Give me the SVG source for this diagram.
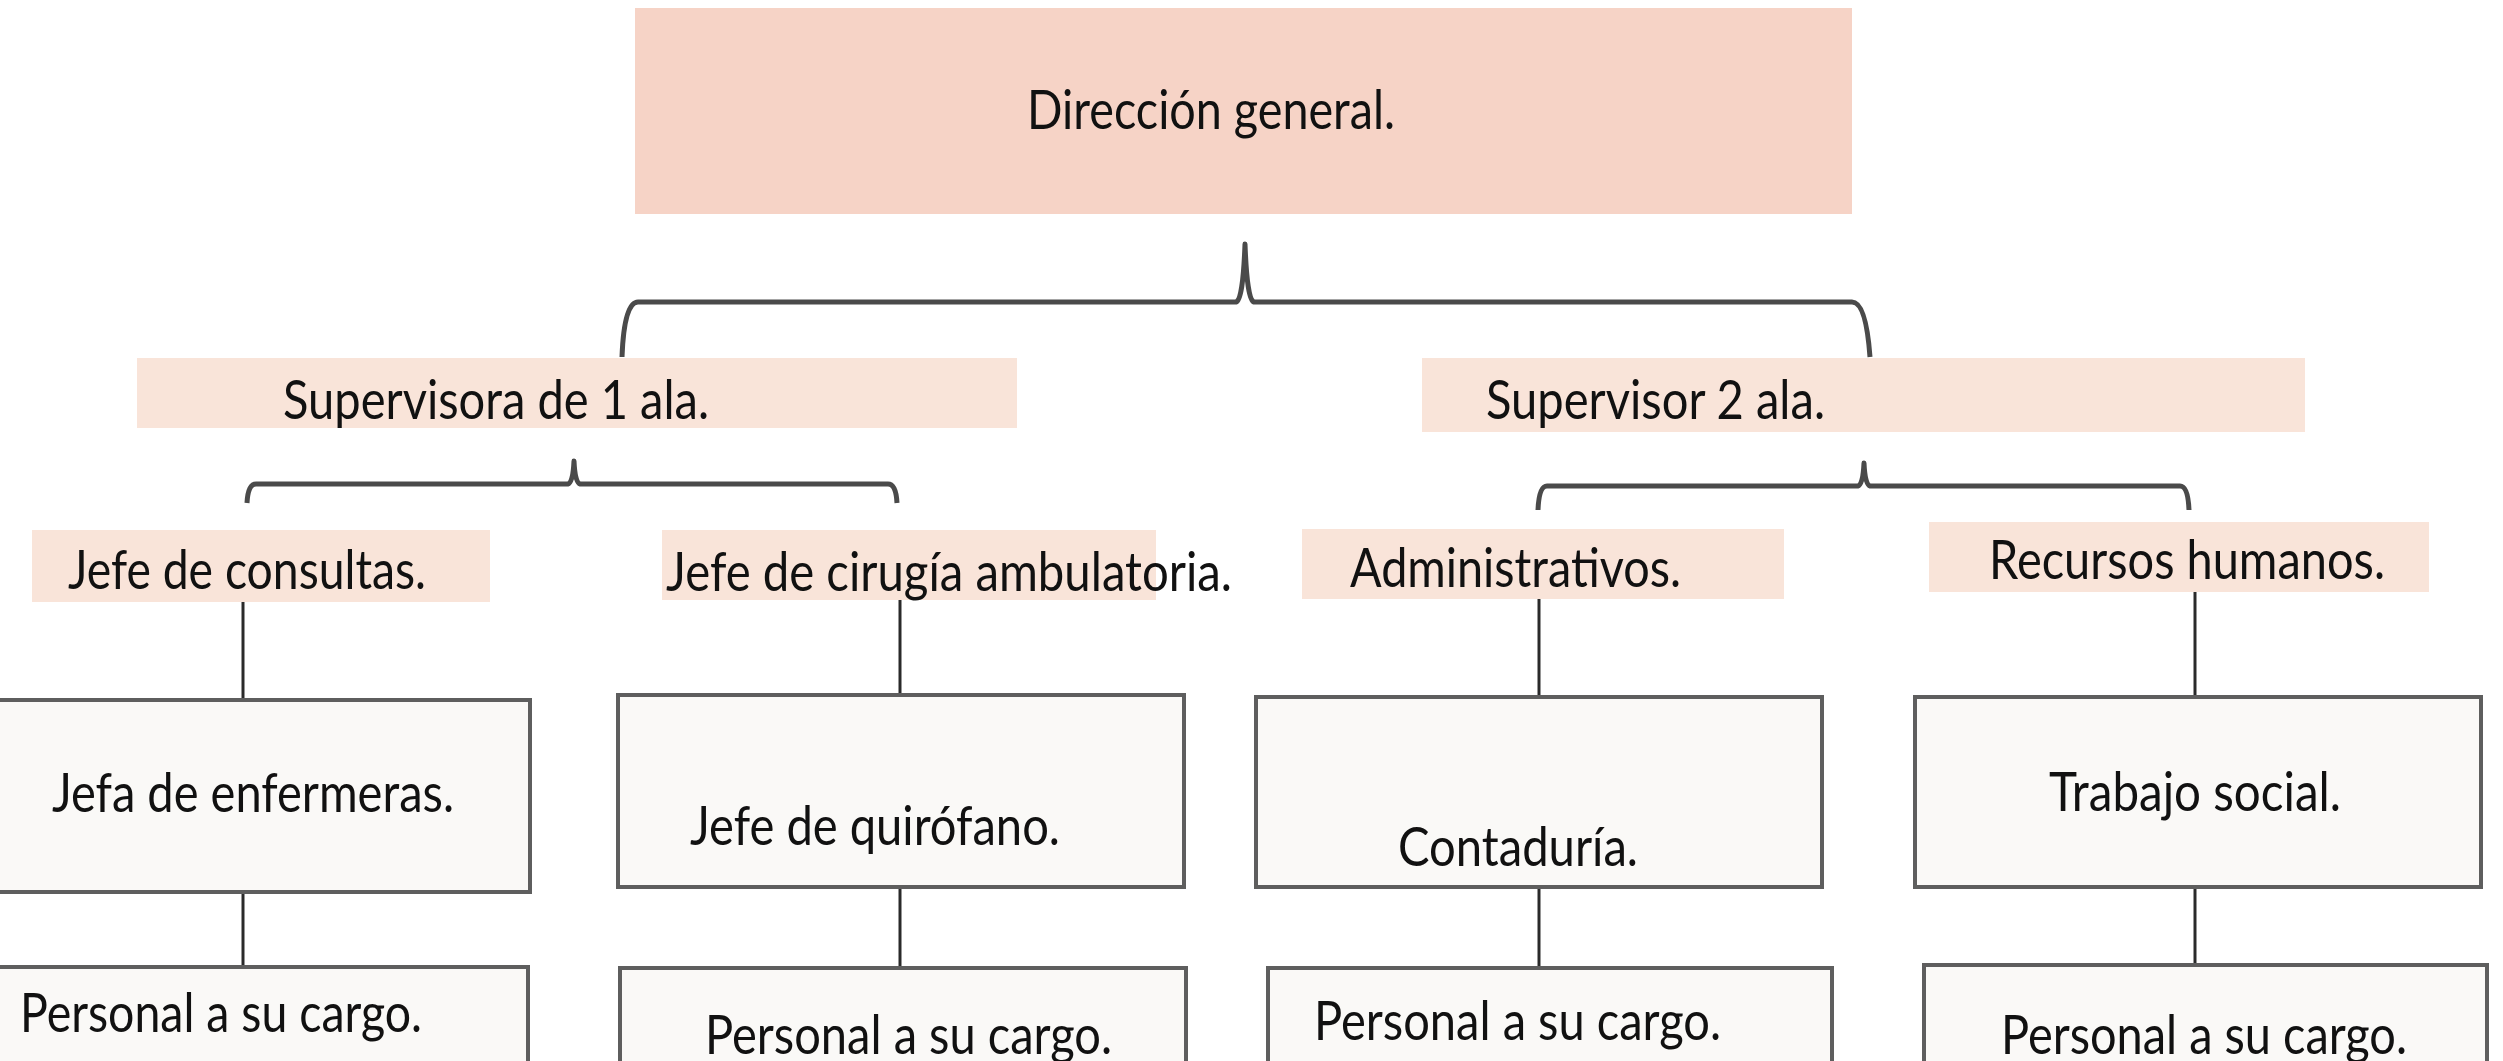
<svg xmlns="http://www.w3.org/2000/svg" width="2503" height="1061" viewBox="0 0 2503 1061">
<style>
text{font-family:Lato,"Open Sans","Liberation Sans",sans-serif;font-size:54px;fill:#111}
.top{fill:#f6d3c6}
.sup{fill:#f9e4d9}
.box{fill:#faf9f7;stroke:#5e5e5e;stroke-width:4}
.brace{fill:none;stroke:#4a4a4a;stroke-width:5;stroke-linejoin:round}
.line{fill:none;stroke:#2a2a2a;stroke-width:3}
</style>
<rect width="2503" height="1061" fill="#ffffff"/>
<g id="connectors">
<path class="brace" d="M622,357 Q624,302 638,302 L1236,302 Q1243,300 1245,244 Q1247,300 1254,302 L1852,302 Q1866,302 1870,357"/>
<path class="brace" d="M247,503 Q248,484 256,484 L568,484 Q573,483 574,461 Q575,483 580,484 L888,484 Q896,484 897,503"/>
<path class="brace" d="M1538,510 Q1539,486 1547,486 L1858,486 Q1863,485 1864,463 Q1865,485 1870,486 L2180,486 Q2188,486 2189,510"/>
<line class="line" x1="243" y1="602" x2="243" y2="700"/>
<line class="line" x1="243" y1="892" x2="243" y2="967"/>
<line class="line" x1="900" y1="600" x2="900" y2="695"/>
<line class="line" x1="900" y1="887" x2="900" y2="968"/>
<line class="line" x1="1539" y1="599" x2="1539" y2="697"/>
<line class="line" x1="1539" y1="887" x2="1539" y2="968"/>
<line class="line" x1="2195" y1="592" x2="2195" y2="697"/>
<line class="line" x1="2195" y1="887" x2="2195" y2="965"/>
</g>
<g id="direccion">
<rect class="top" x="635" y="8" width="1217" height="206"/>
<text x="1027" y="129" textLength="368" lengthAdjust="spacingAndGlyphs">Dirección general.</text>
</g>
<g id="supervisora1">
<rect class="sup" x="137" y="358" width="880" height="70"/>
<text x="283" y="419" textLength="426" lengthAdjust="spacingAndGlyphs">Supervisora de 1 ala.</text>
</g>
<g id="supervisor2">
<rect class="sup" x="1422" y="358" width="883" height="74"/>
<text x="1486" y="419" textLength="339" lengthAdjust="spacingAndGlyphs">Supervisor 2 ala.</text>
</g>
<g id="jefe-consultas">
<rect class="sup" x="32" y="530" width="458" height="72"/>
<text x="68" y="589" textLength="358" lengthAdjust="spacingAndGlyphs">Jefe de consultas.</text>
</g>
<g id="jefe-cirugia">
<rect class="sup" x="662" y="530" width="494" height="70"/>
<text x="666" y="591" textLength="566" lengthAdjust="spacingAndGlyphs">Jefe de cirugía ambulatoria.</text>
</g>
<g id="administrativos">
<rect class="sup" x="1302" y="529" width="482" height="70"/>
<text x="1350" y="587" textLength="331" lengthAdjust="spacingAndGlyphs">Administrativos.</text>
</g>
<g id="recursos-humanos">
<rect class="sup" x="1929" y="522" width="500" height="70"/>
<text x="1989" y="579" textLength="396" lengthAdjust="spacingAndGlyphs">Recursos humanos.</text>
</g>
<g id="jefa-enfermeras">
<rect class="box" x="-4" y="700" width="534" height="192"/>
<text x="52" y="812" textLength="402" lengthAdjust="spacingAndGlyphs">Jefa de enfermeras.</text>
</g>
<g id="jefe-quirofano">
<rect class="box" x="618" y="695" width="566" height="192"/>
<text x="690" y="845" textLength="370" lengthAdjust="spacingAndGlyphs">Jefe de quirófano.</text>
</g>
<g id="contaduria">
<rect class="box" x="1256" y="697" width="566" height="190"/>
<text x="1398" y="866" textLength="240" lengthAdjust="spacingAndGlyphs">Contaduría.</text>
</g>
<g id="trabajo-social">
<rect class="box" x="1915" y="697" width="566" height="190"/>
<text x="2049" y="811" textLength="292" lengthAdjust="spacingAndGlyphs">Trabajo social.</text>
</g>
<g id="personal1">
<rect class="box" x="-4" y="967" width="532" height="110"/>
<text x="20" y="1032" textLength="402" lengthAdjust="spacingAndGlyphs">Personal a su cargo.</text>
</g>
<g id="personal2">
<rect class="box" x="620" y="968" width="566" height="110"/>
<text x="705" y="1054" textLength="407" lengthAdjust="spacingAndGlyphs">Personal a su cargo.</text>
</g>
<g id="personal3">
<rect class="box" x="1268" y="968" width="564" height="110"/>
<text x="1314" y="1040" textLength="407" lengthAdjust="spacingAndGlyphs">Personal a su cargo.</text>
</g>
<g id="personal4">
<rect class="box" x="1924" y="965" width="563" height="110"/>
<text x="2001" y="1054" textLength="406" lengthAdjust="spacingAndGlyphs">Personal a su cargo.</text>
</g>
</svg>
